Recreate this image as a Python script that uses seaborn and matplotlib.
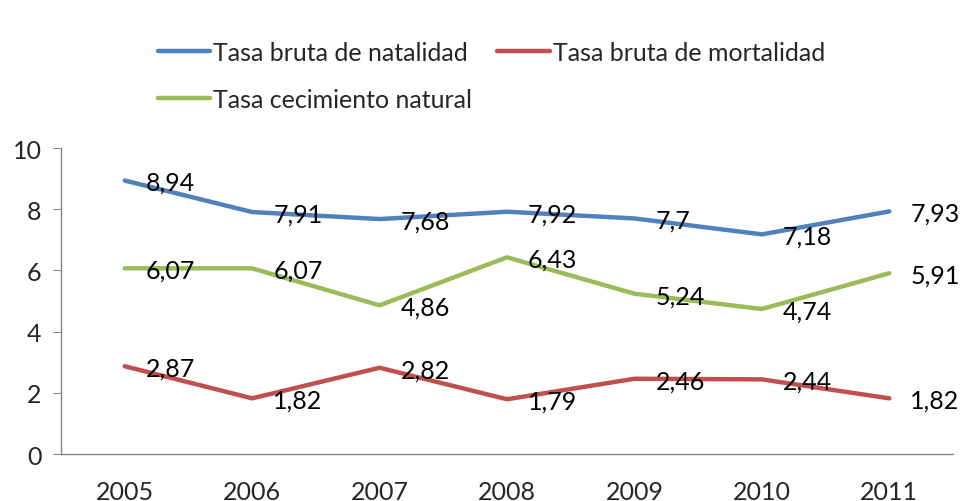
import pandas as pd
import numpy as np
import matplotlib
matplotlib.use("Agg")
import matplotlib.pyplot as plt
import seaborn as sns

years = ["2005", "2006", "2007", "2008", "2009", "2010", "2011"]
natalidad = [8.94, 7.91, 7.68, 7.92, 7.70, 7.18, 7.93]
mortalidad = [2.87, 1.82, 2.82, 1.79, 2.46, 2.44, 1.82]
crecimiento = [6.07, 6.07, 4.86, 6.43, 5.24, 4.74, 5.91]
labels_nat = ["8,94", "7,91", "7,68", "7,92", "7,7", "7,18", "7,93"]
labels_mort = ["2,87", "1,82", "2,82", "1,79", "2,46", "2,44", "1,82"]
labels_crec = ["6,07", "6,07", "4,86", "6,43", "5,24", "4,74", "5,91"]

series_names = ["Tasa bruta de natalidad", "Tasa bruta de mortalidad", "Tasa cecimiento natural"]
colors = ["#4F81BD", "#C0504D", "#9BBB59"]

sns.set_style("white")
plt.rcParams['font.family'] = ['Lato', 'DejaVu Sans']

df = pd.DataFrame({
    "year": years * 3,
    "value": natalidad + mortalidad + crecimiento,
    "serie": [series_names[0]] * 7 + [series_names[1]] * 7 + [series_names[2]] * 7,
})

fig = plt.figure(figsize=(9.71, 5.02), dpi=100)
ax = fig.add_axes([0.0628, 0.0936, 0.9187, 0.6094])

sns.lineplot(data=df, x="year", y="value", hue="serie", palette=colors,
             linewidth=3.2, ax=ax, sort=False, legend=True)

for vals, labs in [(natalidad, labels_nat), (mortalidad, labels_mort), (crecimiento, labels_crec)]:
    for i, (v, lab) in enumerate(zip(vals, labs)):
        ax.annotate(lab, (i, v), xytext=(21, -2), textcoords='offset pixels',
                    ha='left', va='center', fontsize=18, color='black')

ax.set_xlim(-0.5, 6.5)
ax.set_ylim(0, 10)
ax.set_yticks([0, 2, 4, 6, 8, 10])
ax.set_xlabel("")
ax.set_ylabel("")
for s in ["top", "right"]:
    ax.spines[s].set_visible(False)
for s in ["left", "bottom"]:
    ax.spines[s].set_color("#868686")
    ax.spines[s].set_linewidth(1)
ax.tick_params(axis='y', which='both', left=True, length=6, color="#868686",
               labelsize=18, pad=8)
ax.tick_params(axis='x', bottom=False, labelsize=18, pad=15)

handles, lbls = ax.get_legend_handles_labels()
order = [0, 2, 1]
ax.legend([handles[i] for i in order], [lbls[i] for i in order],
          ncol=2, frameon=False, fontsize=18, loc='lower left',
          bbox_to_anchor=(0.097, 1.09), handlelength=2.1, handletextpad=0.12,
          columnspacing=1.0, labelspacing=0.95, borderaxespad=0)

fig.savefig("out.png", dpi=100)
